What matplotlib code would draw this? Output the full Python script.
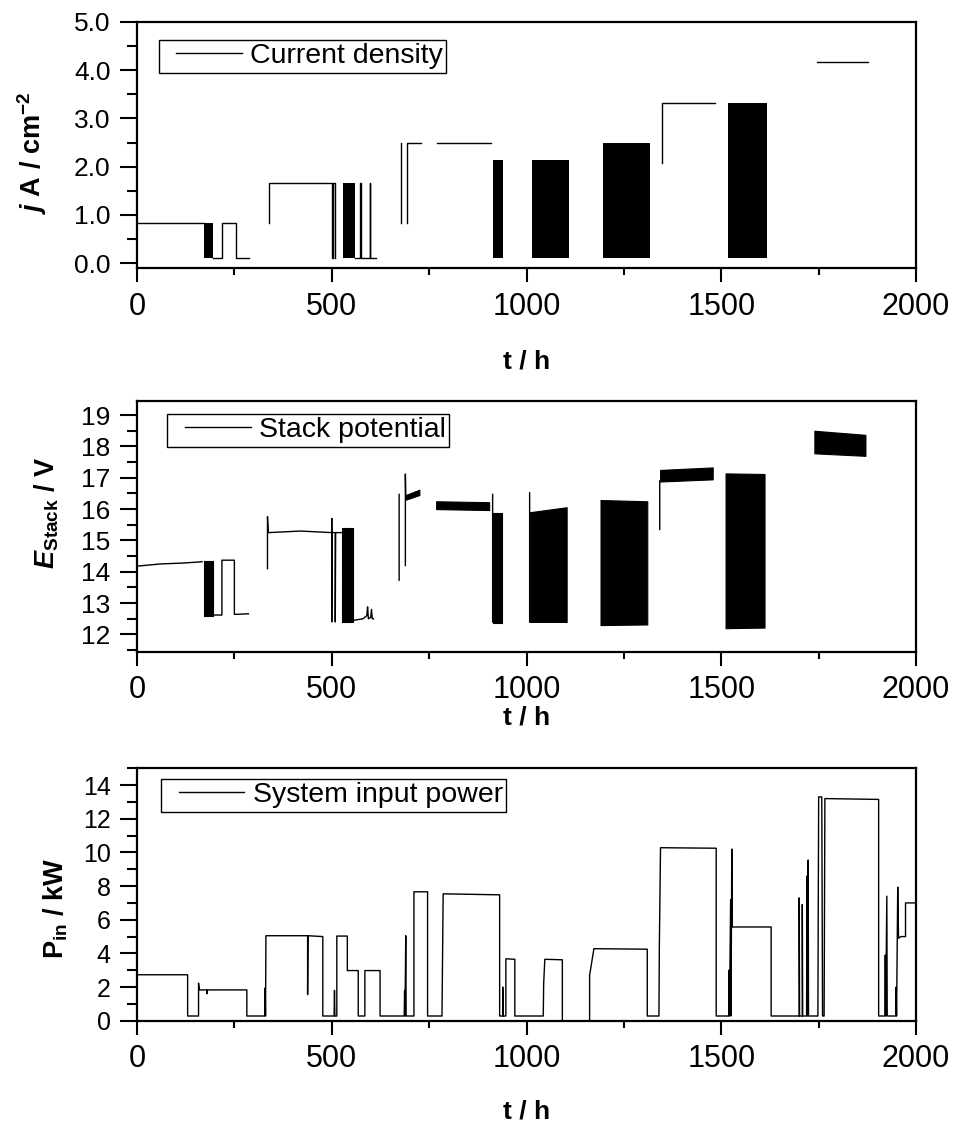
import numpy as np
import matplotlib
matplotlib.use("Agg")
import matplotlib.pyplot as plt
from matplotlib.ticker import MultipleLocator, FormatStrFormatter
from matplotlib.legend_handler import HandlerLine2D

plt.rcParams['font.family'] = ['Liberation Sans', 'DejaVu Sans']
plt.rcParams['mathtext.fontset'] = 'custom'
plt.rcParams['mathtext.rm'] = 'Liberation Sans'
plt.rcParams['mathtext.bf'] = 'Liberation Sans:bold'
plt.rcParams['mathtext.it'] = 'Liberation Sans:italic'
plt.rcParams['mathtext.bfit'] = 'Liberation Sans:italic:bold'

nan = np.nan

# --- current density (A/cm2): single lines + dense on/off cycling blocks
j_t = [0, 171, nan, 196, 218, 218, 254, 254, 288, nan,
       339, 339, 500, 500, 503, 503, 508, 508, nan,
       560, 573, 573, 574, 574, 598, 598, 599, 599, 613, nan,
       677, 677, nan, 694, 694, 728, nan, 771, 910, nan,
       1348, 1348, 1483, nan, 1746, 1876]
j_v = [0.84, 0.84, nan, 0.1, 0.1, 0.84, 0.84, 0.1, 0.1, nan,
       0.84, 1.67, 1.67, 0.1, 0.1, 1.67, 1.67, 0.1, nan,
       0.1, 0.1, 1.67, 1.67, 0.1, 0.1, 1.67, 1.67, 0.1, 0.1, nan,
       0.84, 2.5, nan, 0.84, 2.5, 2.5, nan, 2.5, 2.5, nan,
       2.07, 3.32, 3.32, nan, 4.18, 4.18]
j_blk_start = [171, 530, 914, 1015, 1196, 1518]
j_blk_end = [196, 560, 940, 1108, 1316, 1618]
j_blk_low = [0.1, 0.1, 0.1, 0.1, 0.1, 0.1]
j_blk_high = [0.84, 1.67, 2.13, 2.13, 2.5, 3.32]

# --- stack potential (V)
e_t = [0, 60, 120, 167, nan, 196, 218, 218, 250, 250, 286, nan,
       335, 335, 337, 420, 500, 500, 500, 501, 509, 509, 510, 527, nan,
       555, 580, 590, 592, 594, 600, 602, 604, 607, nan,
       673, 673, nan, 689, 689, 690, nan,
       913, 913, nan, 1008, 1008, nan, 1342, 1342]
e_v = [14.18, 14.25, 14.28, 14.32, nan, 12.62, 12.62, 14.37, 14.37, 12.64, 12.66, nan,
       14.1, 15.76, 15.25, 15.3, 15.25, 15.7, 12.4, 15.25, 15.25, 12.4, 15.25, 15.25, nan,
       12.45, 12.5, 12.6, 12.88, 12.5, 12.55, 12.8, 12.5, 12.5, nan,
       13.73, 16.47, nan, 14.2, 17.12, 16.35, nan,
       12.4, 16.47, nan, 12.4, 16.52, nan, 15.35, 16.9]
e_blk_start = [171, 527, 690, 768, 914, 1008, 1190, 1343, 1511, 1739]
e_blk_end = [196, 555, 725, 904, 936, 1103, 1310, 1478, 1611, 1870]
e_blk_low0 = [12.6, 12.4, 16.3, 16.0, 12.37, 12.4, 12.3, 16.88, 12.2, 17.78]
e_blk_low1 = [12.6, 12.4, 16.45, 15.97, 12.37, 12.4, 12.32, 16.95, 12.22, 17.7]
e_blk_high0 = [14.35, 15.39, 16.45, 16.25, 15.88, 15.9, 16.29, 17.25, 17.14, 18.5]
e_blk_high1 = [14.35, 15.39, 16.62, 16.22, 15.88, 16.06, 16.25, 17.33, 17.12, 18.37]

# --- system input power (kW)
p_t = [0, 130, 130, 158, 158, 160, 180, 180, 181, 282, 282, 328, 329, 330, 331,
       438, 438, 439, 477, 477, 506, 507, 508, 513, 513, 540, 540, 568, 568,
       585, 585, 624, 624, 686, 687, 688, 690, 691, 711, 711, 746, 746,
       783, 784, 786, 931, 931, 939, 939, 940, 947, 947, 970, 970,
       1043, 1044, 1047, 1092, 1092, nan,
       1162, 1162, 1173, 1310, 1310, 1340, 1341, 1344, 1487, 1487,
       1519, 1520, 1521, 1524, 1525, 1527, 1528, 1628, 1628,
       1700, 1700, 1701, 1708, 1708, 1709, 1719, 1720, 1721, 1723, 1724,
       1748, 1750, 1758, 1760, 1764, 1766, 1904, 1904,
       1920, 1921, 1922, 1925, 1926, 1948, 1949, 1950, 1953, 1955, 1961,
       1973, 1973, 2000]
p_v = [2.73, 2.73, 0.28, 0.28, 2.23, 1.83, 1.83, 1.6, 1.83, 1.83, 0.28, 0.28, 1.95, 0.28, 5.05,
       5.05, 1.55, 5.05, 5.0, 0.28, 0.28, 1.8, 0.28, 0.28, 5.03, 5.03, 2.98, 2.98, 0.28,
       0.28, 2.98, 2.98, 0.28, 0.28, 1.8, 0.28, 5.05, 0.28, 0.28, 7.66, 7.66, 0.28,
       0.28, 2.7, 7.54, 7.48, 0.28, 0.28, 2.0, 0.28, 0.28, 3.68, 3.65, 0.28,
       0.28, 2.2, 3.65, 3.62, 0.0, nan,
       0.0, 2.7, 4.28, 4.25, 0.28, 0.28, 4.4, 10.28, 10.25, 0.28,
       0.28, 3.0, 0.28, 7.2, 0.28, 10.2, 5.57, 5.57, 0.28,
       0.28, 7.3, 0.28, 0.28, 6.9, 0.28, 0.28, 8.6, 0.28, 9.55, 0.28,
       0.28, 13.3, 13.3, 0.28, 0.28, 13.2, 13.15, 0.28,
       0.28, 3.9, 0.28, 7.4, 0.28, 0.28, 2.0, 0.28, 7.94, 4.9, 5.0,
       5.0, 7.0, 7.0]

fig = plt.figure(figsize=(9.56, 11.34), dpi=100)
ax1 = fig.add_axes([0.1433, 0.7637, 0.8149, 0.2169])
ax2 = fig.add_axes([0.1433, 0.4253, 0.8149, 0.2211])
ax3 = fig.add_axes([0.1433, 0.0999, 0.8149, 0.2226])

# panel 1
ax1.plot(j_t, j_v, color='black', lw=1.0, label='Current density')
for s, e, lo, hi in zip(j_blk_start, j_blk_end, j_blk_low, j_blk_high):
    ax1.fill_between([s, e], [lo, lo], [hi, hi], color='black', lw=0)
ax1.set_ylim(-0.1, 5.0)
ax1.yaxis.set_major_locator(MultipleLocator(1.0))
ax1.yaxis.set_minor_locator(MultipleLocator(0.5))
ax1.yaxis.set_major_formatter(FormatStrFormatter('%.1f'))
ax1.set_ylabel(r"$\mathbfit{j}$ A / cm$^{\mathbf{-2}}$", fontsize=19.5, fontweight='bold')

# panel 2
ax2.plot(e_t, e_v, color='black', lw=1.0, label='Stack potential')
for s, e, l0, l1, h0, h1 in zip(e_blk_start, e_blk_end, e_blk_low0, e_blk_low1,
                                e_blk_high0, e_blk_high1):
    ax2.fill_between([s, e], [l0, l1], [h0, h1], color='black', lw=0.8, edgecolor='black')
ax2.set_ylim(11.45, 19.45)
ax2.yaxis.set_major_locator(MultipleLocator(1))
ax2.yaxis.set_minor_locator(MultipleLocator(0.5))
ax2.set_ylabel(r"$\mathbfit{E}_{\mathbf{Stack}}$ / V", fontsize=19.5, fontweight='bold')

# panel 3
ax3.plot(p_t, p_v, color='black', lw=1.0, label='System input power')
ax3.set_ylim(0, 15)
ax3.yaxis.set_major_locator(MultipleLocator(2))
ax3.yaxis.set_minor_locator(MultipleLocator(1))
ax3.set_ylabel(r"P$_{\mathbf{in}}$ / kW", fontsize=19.5, fontweight='bold')

legend_pos = [(0.028, 0.927), (0.039, 0.948), (0.031, 0.958)]
xlabel_pad = [20, 0, 18]
ylabel_xy = [(-0.113, 0.467), (-0.097, 0.552), (-0.086, 0.446)]
for ax, pos, lp, yl in zip([ax1, ax2, ax3], legend_pos, xlabel_pad, ylabel_xy):
    ax.set_xlim(0, 2000)
    ax.xaxis.set_major_locator(MultipleLocator(500))
    ax.xaxis.set_minor_locator(MultipleLocator(250))
    for sp in ax.spines.values():
        sp.set_linewidth(1.6)
    ax.tick_params(which='both', direction='out', top=False, right=False, width=1.5)
    ax.tick_params(axis='x', which='major', length=10, labelsize=22, pad=7)
    ax.tick_params(axis='x', which='minor', length=5)
    ax.tick_params(axis='y', which='major', length=12, labelsize=19, pad=7)
    ax.tick_params(axis='y', which='minor', length=7)
    ax.set_xlabel('t / h', fontsize=19, fontweight='bold', labelpad=lp)
    ax.yaxis.set_label_coords(yl[0], yl[1])
    leg = ax.legend(loc='upper left', bbox_to_anchor=pos, borderaxespad=0,
                    fontsize=20.5, frameon=True, fancybox=False, framealpha=1,
                    edgecolor='black', handlelength=2.8, handletextpad=0.29,
                    borderpad=0.12,
                    handler_map={plt.Line2D: HandlerLine2D(xpad=0.5)})
    leg.get_frame().set_linewidth(1.0)

ax3.tick_params(axis='y', which='major', labelsize=18)

fig.savefig('out.png', dpi=100)
